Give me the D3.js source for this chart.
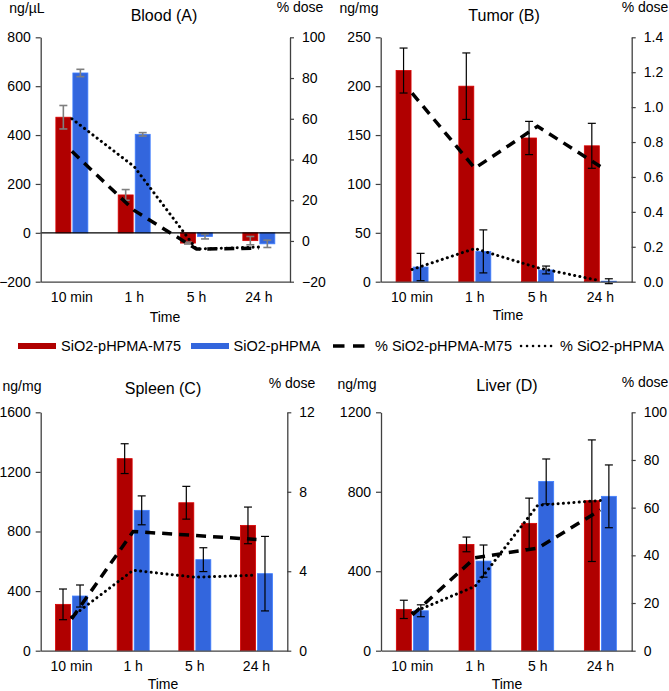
<!DOCTYPE html>
<html>
<head>
<meta charset="utf-8">
<script src="https://cdn.jsdelivr.net/npm/d3@7"></script>
<style>
  html, body { margin: 0; padding: 0; background: #fff; }
  svg text { font-family: "Liberation Sans", Arial, sans-serif; fill: #000; }
</style>
</head>
<body>
<svg id="chart" width="669" height="691"></svg>
<script>
// ---------- DATA ----------
const times = ["10 min", "1 h", "5 h", "24 h"];
const seriesNames = ["SiO2-pHPMA-M75", "SiO2-pHPMA", "% SiO2-pHPMA-M75", "% SiO2-pHPMA"];

// Blood (A)  ng/µL, % dose
const bloodM75 = [473, 155, -42, -32];
const bloodM75Err = [48, 22, 4, 17];
const bloodHPMA = [654, 403, -15, -45];
const bloodHPMAErr = [15, 7, 10, 15];
const bloodPctM75 = [44, 15, -4, -3.5];
const bloodPctHPMA = [60, 36.5, -4, -3];
const bloodLeftTicks = [-200, 0, 200, 400, 600, 800];
const bloodRightTicks = [-20, 0, 20, 40, 60, 80, 100];

// Tumor (B)  ng/mg, % dose
const tumorM75 = [216, 200, 147, 139];
const tumorM75Err = [23, 34, 17, 23];
const tumorHPMA = [15, 31, 12, 0.5];
const tumorHPMAErr = [14, 22, 4, 2.5];
const tumorPctM75 = [1.08, 0.65, 0.89, 0.66];
const tumorPctHPMA = [0.07, 0.19, 0.08, 0.005];
const tumorLeftTicks = [0, 50, 100, 150, 200, 250];
const tumorRightTicks = [0, 0.2, 0.4, 0.6, 0.8, 1.0, 1.2, 1.4];

// Spleen (C)  ng/mg, % dose
const spleenM75 = [311, 1289, 993, 841];
const spleenM75Err = [103, 100, 110, 123];
const spleenHPMA = [367, 942, 611, 517];
const spleenHPMAErr = [74, 97, 80, 250];
const spleenPctM75 = [1.6, 6.0, 5.8, 5.6];
const spleenPctHPMA = [1.7, 4.05, 3.7, 3.8];
const spleenLeftTicks = [0, 400, 800, 1200, 1600];
const spleenRightTicks = [0, 4, 8, 12];

// Liver (D)  ng/mg, % dose
const liverM75 = [208, 535, 641, 755];
const liverM75Err = [46, 37, 127, 306];
const liverHPMA = [201, 451, 852, 777];
const liverHPMAErr = [30, 81, 113, 158];
const liverPctM75 = [15, 39, 43, 59];
const liverPctHPMA = [16, 27, 61, 63];
const liverLeftTicks = [0, 400, 800, 1200];
const liverRightTicks = [0, 20, 40, 60, 80, 100];

// ---------- STYLE ----------
const RED = "#B00000";
const BLUE = "#3366DD";
const AXIS = "#404040";
const FONT = 14;
const LEGEND_FONT = 14.5;

const svg = d3.select("#chart");

const panels = [
  { title: "Blood (A)", unit: "ng/µL", m75: bloodM75, m75Err: bloodM75Err, hpma: bloodHPMA, hpmaErr: bloodHPMAErr,
    pM75: bloodPctM75, pHPMA: bloodPctHPMA, lt: bloodLeftTicks, rt: bloodRightTicks, rfmt: d3.format("d"),
    box: [40.7, 290, 37.3, 281.7], errColor: "#7F7F7F", zero: true,
    unitPos: [27, 13], pctPos: [300, 12], titlePos: [164, 21], timePos: [165, 322], tickBase: 302 },
  { title: "Tumor (B)", unit: "ng/mg", m75: tumorM75, m75Err: tumorM75Err, hpma: tumorHPMA, hpmaErr: tumorHPMAErr,
    pM75: tumorPctM75, pHPMA: tumorPctHPMA, lt: tumorLeftTicks, rt: tumorRightTicks, rfmt: d3.format(".1f"),
    box: [380.7, 631.7, 37.3, 281.7], errColor: "#000", zero: false,
    unitPos: [359, 13], pctPos: [645, 12], titlePos: [504, 21], timePos: [508, 320], tickBase: 302 },
  { title: "Spleen (C)", unit: "ng/mg", m75: spleenM75, m75Err: spleenM75Err, hpma: spleenHPMA, hpmaErr: spleenHPMAErr,
    pM75: spleenPctM75, pHPMA: spleenPctHPMA, lt: spleenLeftTicks, rt: spleenRightTicks, rfmt: d3.format("d"),
    box: [40.7, 287.3, 412.3, 650.7], errColor: "#000", zero: false,
    unitPos: [22, 391], pctPos: [292, 388], titlePos: [163, 394], timePos: [163, 689], tickBase: 671 },
  { title: "Liver (D)", unit: "ng/mg", m75: liverM75, m75Err: liverM75Err, hpma: liverHPMA, hpmaErr: liverHPMAErr,
    pM75: liverPctM75, pHPMA: liverPctHPMA, lt: liverLeftTicks, rt: liverRightTicks, rfmt: d3.format("d"),
    box: [381, 631.7, 412.3, 650.7], errColor: "#000", zero: false,
    unitPos: [357, 389], pctPos: [645, 387], titlePos: [507, 391], timePos: [507, 689], tickBase: 671 }
];

panels.forEach(p => drawPanel(p));

function drawPanel(p) {
  const [x0, x1, yTop, yBot] = p.box;
  const g = svg.append("g");
  const x = d3.scaleBand().domain(times).range([x0, x1]).paddingInner(0).paddingOuter(0);
  const sub = d3.scaleBand().domain(["m75", "hpma"]).range([-16, 16]).paddingInner(0.12);
  const yL = d3.scaleLinear().domain([p.lt[0], p.lt[p.lt.length - 1]]).range([yBot, yTop]);
  const yR = d3.scaleLinear().domain([p.rt[0], p.rt[p.rt.length - 1]]).range([yBot, yTop]);
  const cx = t => x(t) + x.bandwidth() / 2;

  // bars
  const bars = [
    { key: "m75", vals: p.m75, err: p.m75Err, color: RED },
    { key: "hpma", vals: p.hpma, err: p.hpmaErr, color: BLUE }
  ];
  bars.forEach(s => {
    g.selectAll(null).data(times).enter().append("rect")
      .attr("x", t => cx(t) + sub(s.key))
      .attr("width", sub.bandwidth())
      .attr("y", (t, i) => Math.min(yL(s.vals[i]), yL(0)))
      .attr("height", (t, i) => Math.abs(yL(s.vals[i]) - yL(0)))
      .attr("fill", s.color)
      .attr("stroke", d3.color(s.color).brighter(0.6))
      .attr("stroke-width", 0.8);
  });

  // error bars
  bars.forEach(s => {
    const eg = g.selectAll(null).data(times).enter().append("g")
      .attr("stroke", p.errColor).attr("stroke-width", p.errColor === "#000" ? 1.2 : 1.6).attr("fill", "none");
    eg.append("line")
      .attr("x1", t => cx(t) + sub(s.key) + sub.bandwidth() / 2)
      .attr("x2", t => cx(t) + sub(s.key) + sub.bandwidth() / 2)
      .attr("y1", (t, i) => yL(s.vals[i] + s.err[i]))
      .attr("y2", (t, i) => yL(s.vals[i] - s.err[i]));
    [1, -1].forEach(sign => {
      eg.append("line")
        .attr("x1", t => cx(t) + sub(s.key) + sub.bandwidth() / 2 - 4)
        .attr("x2", t => cx(t) + sub(s.key) + sub.bandwidth() / 2 + 4)
        .attr("y1", (t, i) => yL(s.vals[i] + sign * s.err[i]))
        .attr("y2", (t, i) => yL(s.vals[i] + sign * s.err[i]));
    });
  });

  // zero line
  if (p.zero) {
    g.append("line").attr("x1", x0).attr("x2", x1).attr("y1", yL(0)).attr("y2", yL(0))
      .attr("stroke", "#000").attr("stroke-width", 1.2);
  }

  // % lines
  const line = d3.line().x(d => cx(d.t)).y(d => yR(d.v));
  g.append("path")
    .datum(times.map((t, i) => ({ t, v: p.pM75[i] })))
    .attr("d", line).attr("fill", "none").attr("stroke", "#000")
    .attr("stroke-width", 3.5).attr("stroke-dasharray", "10 7");
  g.append("path")
    .datum(times.map((t, i) => ({ t, v: p.pHPMA[i] })))
    .attr("d", line).attr("fill", "none").attr("stroke", "#000")
    .attr("stroke-width", 3).attr("stroke-linecap", "round").attr("stroke-dasharray", "0.1 5.2");

  // axes
  const la = g.append("g").attr("transform", `translate(${x0},0)`)
    .call(d3.axisLeft(yL).tickValues(p.lt).tickSize(5).tickSizeOuter(0).tickPadding(5).tickFormat(d3.format("d")));
  const ra = g.append("g").attr("transform", `translate(${x1},0)`)
    .call(d3.axisRight(yR).tickValues(p.rt).tickSize(4).tickSizeOuter(0).tickPadding(8).tickFormat(p.rfmt));
  [la, ra].forEach(a => {
    a.select(".domain").attr("stroke", AXIS).attr("stroke-width", 1.3);
    a.selectAll(".tick line").attr("stroke", AXIS).attr("stroke-width", 1.2);
    a.selectAll(".tick text").attr("font-size", FONT).attr("font-family", "Liberation Sans, Arial, sans-serif").attr("fill", "#000");
  });
  // bottom axis
  const ba = g.append("g").attr("transform", `translate(0,${yBot})`)
    .call(d3.axisBottom(x).tickSize(0).tickSizeOuter(0).tickPadding(0));
  ba.select(".domain").attr("stroke", AXIS).attr("stroke-width", 1.3);
  ba.selectAll(".tick text").attr("font-size", FONT).attr("font-family", "Liberation Sans, Arial, sans-serif")
    .attr("fill", "#000").attr("dy", null).attr("y", p.tickBase - yBot);

  // labels
  g.append("text").attr("x", p.unitPos[0]).attr("y", p.unitPos[1]).attr("text-anchor", "middle")
    .attr("font-size", FONT).text(p.unit);
  g.append("text").attr("x", p.pctPos[0]).attr("y", p.pctPos[1]).attr("text-anchor", "middle")
    .attr("font-size", FONT).text("% dose");
  g.append("text").attr("x", p.titlePos[0]).attr("y", p.titlePos[1]).attr("text-anchor", "middle")
    .attr("font-size", 16).text(p.title);
  g.append("text").attr("x", p.timePos[0]).attr("y", p.timePos[1]).attr("text-anchor", "middle")
    .attr("font-size", FONT).text("Time");
}

// ---------- LEGEND ----------
const lg = svg.append("g");
const legendY = 346;
lg.append("rect").attr("x", 18).attr("y", legendY - 3).attr("width", 38).attr("height", 6).attr("fill", RED);
lg.append("text").attr("x", 61).attr("y", legendY + 5).attr("font-size", LEGEND_FONT).text(seriesNames[0]);
lg.append("rect").attr("x", 191).attr("y", legendY - 3).attr("width", 38).attr("height", 6).attr("fill", BLUE);
lg.append("text").attr("x", 233.5).attr("y", legendY + 5).attr("font-size", LEGEND_FONT).text(seriesNames[1]);
lg.append("line").attr("x1", 333).attr("x2", 365).attr("y1", legendY).attr("y2", legendY)
  .attr("stroke", "#000").attr("stroke-width", 3.5).attr("stroke-dasharray", "11.5 8.5");
lg.append("text").attr("x", 375).attr("y", legendY + 5).attr("font-size", LEGEND_FONT).text(seriesNames[2]);
lg.append("line").attr("x1", 521).attr("x2", 557).attr("y1", legendY).attr("y2", legendY)
  .attr("stroke", "#000").attr("stroke-width", 2.5).attr("stroke-linecap", "round").attr("stroke-dasharray", "0.1 5.9");
lg.append("text").attr("x", 560).attr("y", legendY + 5).attr("font-size", LEGEND_FONT).text(seriesNames[3]);
</script>
</body>
</html>
